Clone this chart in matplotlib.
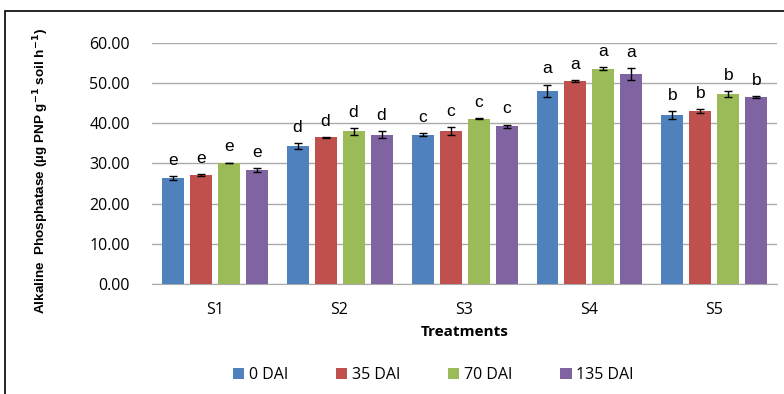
import numpy as np
import matplotlib
matplotlib.use("Agg")
import matplotlib.pyplot as plt
from matplotlib.patches import Rectangle

treatments = ["S1", "S2", "S3", "S4", "S5"]
stages = ["0 DAI", "35 DAI", "70 DAI", "135 DAI"]
colors = ["#4F81BD", "#C0504D", "#9BBB59", "#8064A2"]

# enzyme activity per stage, one value per treatment
dai_0 = [26.4, 34.3, 37.2, 48.1, 42.1]
dai_35 = [27.1, 36.5, 38.1, 50.5, 43.1]
dai_70 = [30.1, 38.0, 41.2, 53.6, 47.3]
dai_135 = [28.4, 37.2, 39.3, 52.3, 46.5]

err_0 = [0.4, 0.8, 0.3, 1.5, 0.9]
err_35 = [0.2, 0.1, 1.0, 0.2, 0.5]
err_70 = [0.1, 0.8, 0.1, 0.3, 0.7]
err_135 = [0.4, 0.9, 0.4, 1.4, 0.3]

# significance letters (same letter for a treatment across stages)
letters = ["e", "d", "c", "a", "b"]

values = [dai_0, dai_35, dai_70, dai_135]
errors = [err_0, err_35, err_70, err_135]

plt.rcParams["font.family"] = ["Open Sans", "DejaVu Sans"]

fig = plt.figure(figsize=(7.84, 3.94), dpi=100)
ax = fig.add_axes([0.194, 0.2792, 0.797, 0.6117])

x = np.arange(len(treatments))
step = 0.224
width = 0.176

for i, (vals, errs) in enumerate(zip(values, errors)):
    pos = x + (i - 1.5) * step
    ax.bar(pos, vals, width, color=colors[i], label=stages[i], zorder=3)
    ax.errorbar(pos, vals, yerr=errs, fmt="none", ecolor="black",
                elinewidth=1, capsize=3, capthick=1, zorder=4)
    for xp, v, e, let in zip(pos, vals, errs, letters):
        ax.annotate(let, (xp, v + e), xytext=(0, 6), textcoords="offset points",
                    ha="center", va="bottom", fontsize=12.5,
                    family="Liberation Sans", annotation_clip=False)

ax.set_xlim(-0.5, len(treatments) - 0.5)
ax.set_ylim(0, 60)
ax.set_yticks(np.arange(0, 61, 10))
ax.set_yticklabels([f"{t:.2f}" for t in np.arange(0, 61, 10)], fontsize=11.5)
ax.set_xticks(x)
ax.set_xticklabels(treatments, fontsize=11.5)

ax.grid(axis="y", color="#ababab", linewidth=1, zorder=0)
for side in ["top", "right", "left"]:
    ax.spines[side].set_visible(False)
ax.spines["bottom"].set_color("#ababab")
ax.tick_params(axis="y", length=0, pad=16)
ax.tick_params(axis="x", length=0, pad=13)

ax.set_xlabel("Treatments", fontsize=11, fontweight="bold", labelpad=5)
ax.set_ylabel(r"Alkaline  Phosphatase (µg PNP g$^{\mathbf{-1}}$ soil h$^{\mathbf{-1}}$)",
              fontsize=9.7, fontweight="bold", family="Liberation Sans")
ax.yaxis.set_label_coords(-0.161, 0.47)

ax.legend(loc="upper center", bbox_to_anchor=(0.45, -0.285), ncol=4,
          frameon=False, fontsize=11.5, handlelength=0.7, handleheight=0.7,
          handletextpad=0.3, columnspacing=3.0)

# outer chart border (left and top edges visible)
fig.patches.append(Rectangle((0.0064, -0.1), 1.2, 1.072, transform=fig.transFigure,
                             fill=False, edgecolor="black", linewidth=1.2))

fig.savefig("out.png", dpi=100)
